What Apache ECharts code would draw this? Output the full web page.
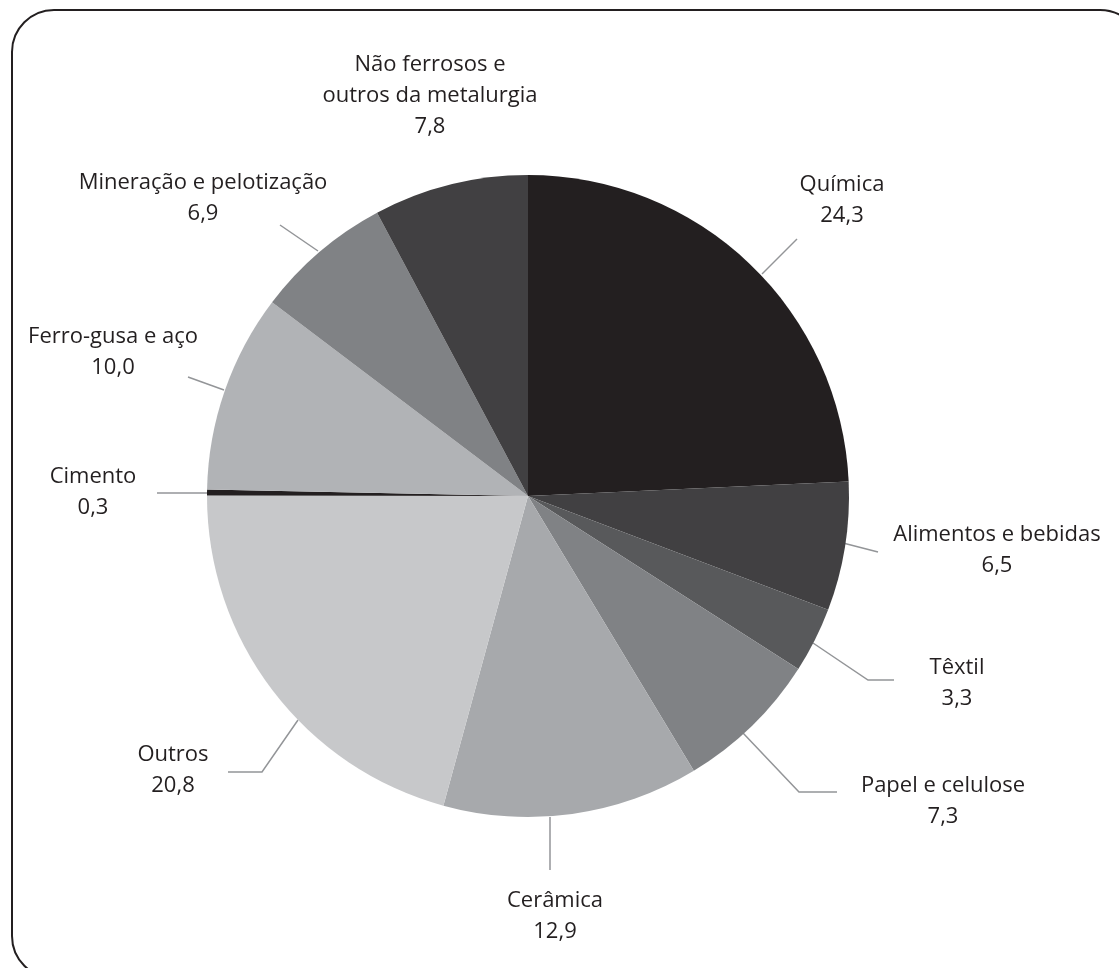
<!DOCTYPE html>
<html>
<head>
<meta charset="utf-8">
<script src="https://cdn.jsdelivr.net/npm/echarts@6/dist/echarts.min.js"></script>
<style>
  html, body { margin: 0; padding: 0; background: #fff; }
  #chart { width: 1119px; height: 968px; }
</style>
</head>
<body>
<div id="chart"></div>
<script>
// ---- data ----
const categories = [
  'Química', 'Alimentos e bebidas', 'Têxtil', 'Papel e celulose', 'Cerâmica',
  'Outros', 'Cimento', 'Ferro-gusa e aço', 'Mineração e pelotização',
  'Não ferrosos e\noutros da metalurgia'
];
const values = [24.3, 6.5, 3.3, 7.3, 12.9, 20.8, 0.3, 10.0, 6.9, 7.8];

// ---- styles / layout (not data) ----
const colors = ['#231f20', '#414042', '#58595b', '#808285', '#a7a9ac',
                '#c7c8ca', '#231f20', '#b1b3b6', '#808285', '#414042'];
const labelPos = [
  [842, 200], [997, 550], [957, 683], [943, 801], [555, 916],
  [173, 770], [93, 492], [113, 352], [203, 198], [430, 96]
];
const leaderPts = [
  [[762, 274], [797, 239]],
  [[843, 543], [878, 552]],
  [[813, 643], [868, 680], [894, 680]],
  [[743, 733], [799, 792], [837, 792]],
  [[550, 817], [550, 870]],
  [[298, 720], [262, 772], [228, 772]],
  [[207, 493], [157, 493]],
  [[224, 390], [188, 377]],
  [[318, 251], [280, 225]],
  null
];

const chart = echarts.init(document.getElementById('chart'), null, { renderer: 'canvas' });

const seriesData = categories.map((name, i) => ({
  name: name,
  value: values[i],
  itemStyle: { color: colors[i] },
  labelLine: { show: leaderPts[i] !== null }
}));

const fmt = v => v.toFixed(1).replace('.', ',');

chart.setOption({
  animation: false,
  backgroundColor: '#ffffff',
  graphic: [{
    type: 'rect',
    shape: { x: 12, y: 10, width: 1130, height: 968, r: 42 },
    style: { fill: 'none', stroke: '#231f20', lineWidth: 2 },
    silent: true,
    z: 10
  }],
  series: [{
    type: 'pie',
    center: [528, 496],
    radius: [0, 321],
    startAngle: 90,
    clockwise: true,
    avoidLabelOverlap: false,
    data: seriesData,
    label: {
      show: true,
      position: 'outside',
      formatter: p => p.name + '\n' + fmt(p.value),
      fontFamily: '"Open Sans", "Noto Sans", sans-serif',
      fontSize: 22,
      lineHeight: 31,
      color: '#231f20',
      align: 'center'
    },
    labelLine: {
      show: true,
      length: 20,
      length2: 20,
      lineStyle: { color: '#939598', width: 1.5 }
    },
    labelLayout: function (params) {
      const i = params.dataIndex;
      const res = {
        x: labelPos[i][0],
        y: labelPos[i][1],
        align: 'center',
        verticalAlign: 'middle',
        hideOverlap: false,
        moveOverlap: null
      };
      if (leaderPts[i]) res.labelLinePoints = leaderPts[i];
      return res;
    },
    emphasis: { disabled: true }
  }]
});
</script>
</body>
</html>
